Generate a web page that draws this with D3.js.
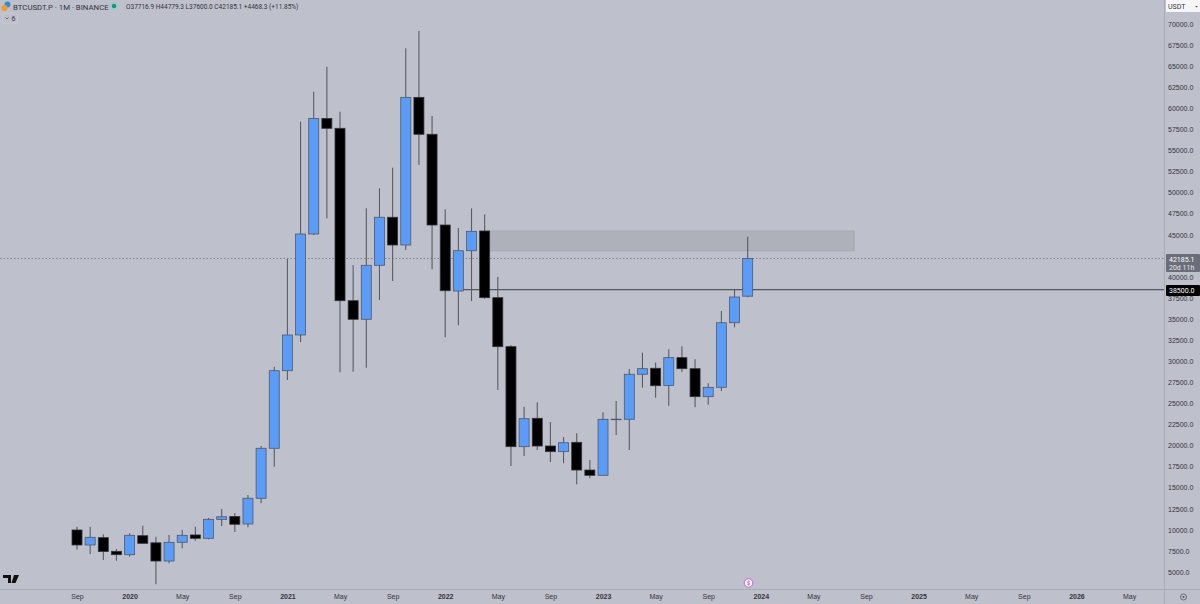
<!DOCTYPE html>
<html>
<head>
<meta charset="utf-8">
<title>BTCUSDT.P 1M</title>
<script src="https://cdn.jsdelivr.net/npm/d3@7"></script>
<style>
  html, body { margin: 0; padding: 0; background: #bec0cc; }
  svg { display: block; font-family: Roboto, "Noto Sans", sans-serif; }
</style>
</head>
<body>
<svg id="chart" width="1200" height="604"></svg>
<script>
// monthly candles, Sep 2019 to Dec 2023
const months = ["2019-09","2019-10","2019-11","2019-12",
  "2020-01","2020-02","2020-03","2020-04","2020-05","2020-06","2020-07","2020-08","2020-09","2020-10","2020-11","2020-12",
  "2021-01","2021-02","2021-03","2021-04","2021-05","2021-06","2021-07","2021-08","2021-09","2021-10","2021-11","2021-12",
  "2022-01","2022-02","2022-03","2022-04","2022-05","2022-06","2022-07","2022-08","2022-09","2022-10","2022-11","2022-12",
  "2023-01","2023-02","2023-03","2023-04","2023-05","2023-06","2023-07","2023-08","2023-09","2023-10","2023-11","2023-12"];
const opens = [9990,8210,9080,7460,
  7060,9310,8470,6310,8530,9400,9000,11250,11600,10700,13750,19680,
  28880,33115,45094,58800,57630,37180,34980,41380,47080,43790,61300,56920,
  46160,38330,43110,45450,37540,31730,19870,23240,19950,19280,20390,17100,
  16475,23130,23120,28460,29170,27130,30430,29120,25800,26910,34570,37716.9];
const highs = [10380,10380,9480,7735,
  9600,10500,9190,9400,9990,10380,11430,12480,12000,14140,19950,29360,
  42130,58420,61970,64940,59600,41420,48140,50510,52950,67120,69170,59090,
  48030,45800,48140,47430,40030,31930,24610,25130,22800,21020,21450,18290,
  23950,25290,29080,31020,29840,31420,31780,30230,27390,35960,38450,44779.3];
const lows = [7650,7142,6430,6350,
  6820,8400,3550,6040,7820,8720,8880,10470,9750,10300,13160,17500,
  27780,32285,44970,46960,28690,28770,29240,37270,39520,43200,53280,40900,
  32840,34260,37150,37400,26590,17580,18770,19480,18050,17900,15410,16120,
  16450,21250,19480,26870,25680,24730,28730,24540,24850,26480,34030,37600];
const closes = [8210,9120,7430,7060,
  9360,8410,6310,8530,9360,9000,11260,11560,10670,13750,19680,28880,
  33115,45094,58800,57630,37180,34980,41380,47080,43790,61300,56920,46160,
  38370,43110,45410,37540,31730,19870,23190,19950,19280,20340,17100,16475,
  23120,23130,28460,29120,27100,30430,29120,25800,26910,34570,37620,42185.1];

// 42500 is hidden by the last price label
const priceTicks = [5000,7500,10000,12500,15000,17500,20000,22500,25000,27500,30000,32500,35000,37500,40000,45000,47500,50000,52500,55000,57500,60000,62500,65000,67500,70000];
const timeTicks = [0,4,8,12,16,20,24,28,32,36,40,44,48,52,56,60,64,68,72,76,80];
const timeLabels = ["Sep","2020","May","Sep","2021","May","Sep","2022","May","Sep","2023","May","Sep","2024","May","Sep","2025","May","Sep","2026","May"];

const lastPrice = 42185.1;
const hLevel = 38500;
const hLevelStart = 29;
const zoneTop = 45450, zoneBottom = 43100;
const zoneStart = 31, zoneEnd = 59.1;

const plotW = 1164, plotH = 589;
const bodyW = 10;

const svg = d3.select("#chart");

const x = d3.scaleLinear().domain([-5.856, 82.66]).range([0, plotW]);
const y = d3.scaleLinear().domain([2991, 72846]).range([plotH, 0]);

const candles = months.map((m, i) => ({ m, i, o: opens[i], h: highs[i], l: lows[i], c: closes[i] }));

// resistance zone
svg.append("rect")
  .attr("x", x(zoneStart)).attr("y", y(zoneTop))
  .attr("width", x(zoneEnd) - x(zoneStart)).attr("height", y(zoneBottom) - y(zoneTop))
  .attr("fill", "#aeb1ba").attr("stroke", "#a7aab3").attr("stroke-width", 1);

// last price dotted line
svg.append("line")
  .attr("x1", 0).attr("x2", plotW)
  .attr("y1", y(lastPrice)).attr("y2", y(lastPrice))
  .attr("stroke", "#7f828d").attr("stroke-width", 1).attr("stroke-dasharray", "1.5 2");

// 38500 level
svg.append("line")
  .attr("x1", x(hLevelStart)).attr("x2", plotW)
  .attr("y1", y(hLevel)).attr("y2", y(hLevel))
  .attr("stroke", "#55575e").attr("stroke-width", 1.4);

// wicks
svg.append("g").selectAll("line").data(candles).join("line")
  .attr("x1", d => x(d.i)).attr("x2", d => x(d.i))
  .attr("y1", d => y(d.h)).attr("y2", d => y(d.l))
  .attr("stroke", "#5a5c63").attr("stroke-width", 1.1);

// bodies
svg.append("g").selectAll("rect").data(candles).join("rect")
  .attr("x", d => x(d.i) - bodyW / 2)
  .attr("y", d => y(Math.max(d.o, d.c)))
  .attr("width", bodyW)
  .attr("height", d => Math.max(0.5, Math.abs(y(d.o) - y(d.c))))
  .attr("fill", d => d.c >= d.o ? "#5a9cf8" : "#000000")
  .attr("stroke", d => d.c >= d.o ? "#4f5a68" : "#33343a")
  .attr("stroke-width", 0.8);

// price axis
const yAxis = d3.axisRight(y).tickValues(priceTicks).tickFormat(d3.format(".1f")).tickSize(0).tickPadding(4);
const gy = svg.append("g").attr("transform", `translate(${plotW},0)`).call(yAxis);
gy.select(".domain").attr("stroke", "#a8abb6").attr("d", `M0.5,0V604`);
gy.selectAll("text").attr("font-size", 7).attr("fill", "#33343a");

// time axis
const xAxis = d3.axisBottom(x).tickValues(timeTicks).tickFormat((d, i) => timeLabels[i]).tickSize(0).tickPadding(5);
const gx = svg.append("g").attr("transform", `translate(0,${plotH})`).call(xAxis);
gx.select(".domain").attr("stroke", "#a8abb6").attr("d", `M0,0.5H1200`);
gx.selectAll("text")
  .attr("font-size", 7)
  .attr("fill", "#33343a")
  .attr("font-weight", (d, i) => /^\d/.test(timeLabels[i]) ? 700 : 400);

// price labels on the right
svg.append("rect").attr("x", 1166).attr("y", 254).attr("width", 34).attr("height", 18).attr("rx", 1).attr("fill", "#6b6e79");
svg.append("text").attr("x", 1169).attr("y", 261.5).attr("font-size", 7).attr("fill", "#fff").text(lastPrice.toFixed(1));
svg.append("text").attr("x", 1169).attr("y", 270).attr("font-size", 7).attr("fill", "#e4e5ea").text("20d 11h");
svg.append("rect").attr("x", 1166).attr("y", 285).attr("width", 34).attr("height", 11).attr("rx", 1).attr("fill", "#000");
svg.append("text").attr("x", 1169).attr("y", y(hLevel) + 3).attr("font-size", 7).attr("fill", "#fff").text(hLevel.toFixed(1));

// currency box
svg.append("rect").attr("x", 1166).attr("y", 0).attr("width", 34).attr("height", 12).attr("fill", "#f6f6f8");
svg.append("text").attr("x", 1168).attr("y", 9).attr("font-size", 7).attr("fill", "#33343a").text("USDT");
svg.append("path").attr("d", "M1195,6h3l-1.5,1.5z").attr("fill", "#55575e");

// header
svg.append("circle").attr("cx", 7.5).attr("cy", 4.5).attr("r", 3).attr("fill", "#2a8fd8");
svg.append("circle").attr("cx", 4.5).attr("cy", 8).attr("r", 3).attr("fill", "#f59a23");
svg.append("text").attr("x", 13).attr("y", 9.5).attr("font-size", 7.8).attr("fill", "#33343a").text("BTCUSDT.P · 1M · BINANCE");
svg.append("circle").attr("cx", 114).attr("cy", 6).attr("r", 4.5).attr("fill", "#a9c7c6");
svg.append("circle").attr("cx", 114).attr("cy", 6).attr("r", 2.2).attr("fill", "#089981");
svg.append("text").attr("x", 126).attr("y", 9).attr("font-size", 6.5).attr("fill", "#33343a")
  .text("O37716.9 H44779.3 L37600.0 C42185.1 +4468.3 (+11.85%)");

// collapsed indicators button
svg.append("rect").attr("x", 2.5).attr("y", 13.5).attr("width", 15).attr("height", 10).attr("rx", 2).attr("fill", "none").attr("stroke", "#c6c8d3");
svg.append("path").attr("d", "M5.5,17.5l1.5,1.5l1.5,-1.5").attr("fill", "none").attr("stroke", "#44464c").attr("stroke-width", 0.7);
svg.append("text").attr("x", 11.5).attr("y", 21).attr("font-size", 7).attr("fill", "#33343a").text("6");

// TradingView mark
svg.append("path").attr("d", "M3,575H11V583H8V578H3ZM14,575H19L15.5,583H11.5Z").attr("fill", "#111");

// dividend marker
svg.append("circle").attr("cx", 748.5).attr("cy", 583).attr("r", 4.3).attr("fill", "#f3f0f6").attr("stroke", "#c765d6").attr("stroke-width", 1);
svg.append("text").attr("x", 748.5).attr("y", 585.2).attr("text-anchor", "middle").attr("font-size", 6).attr("fill", "#a13cb5").text("$");

// settings icon
svg.append("circle").attr("cx", 1183.5).attr("cy", 597).attr("r", 3).attr("fill", "none").attr("stroke", "#55575e").attr("stroke-width", 0.8);
svg.append("circle").attr("cx", 1183.5).attr("cy", 597).attr("r", 1).attr("fill", "#55575e");
</script>
</body>
</html>
